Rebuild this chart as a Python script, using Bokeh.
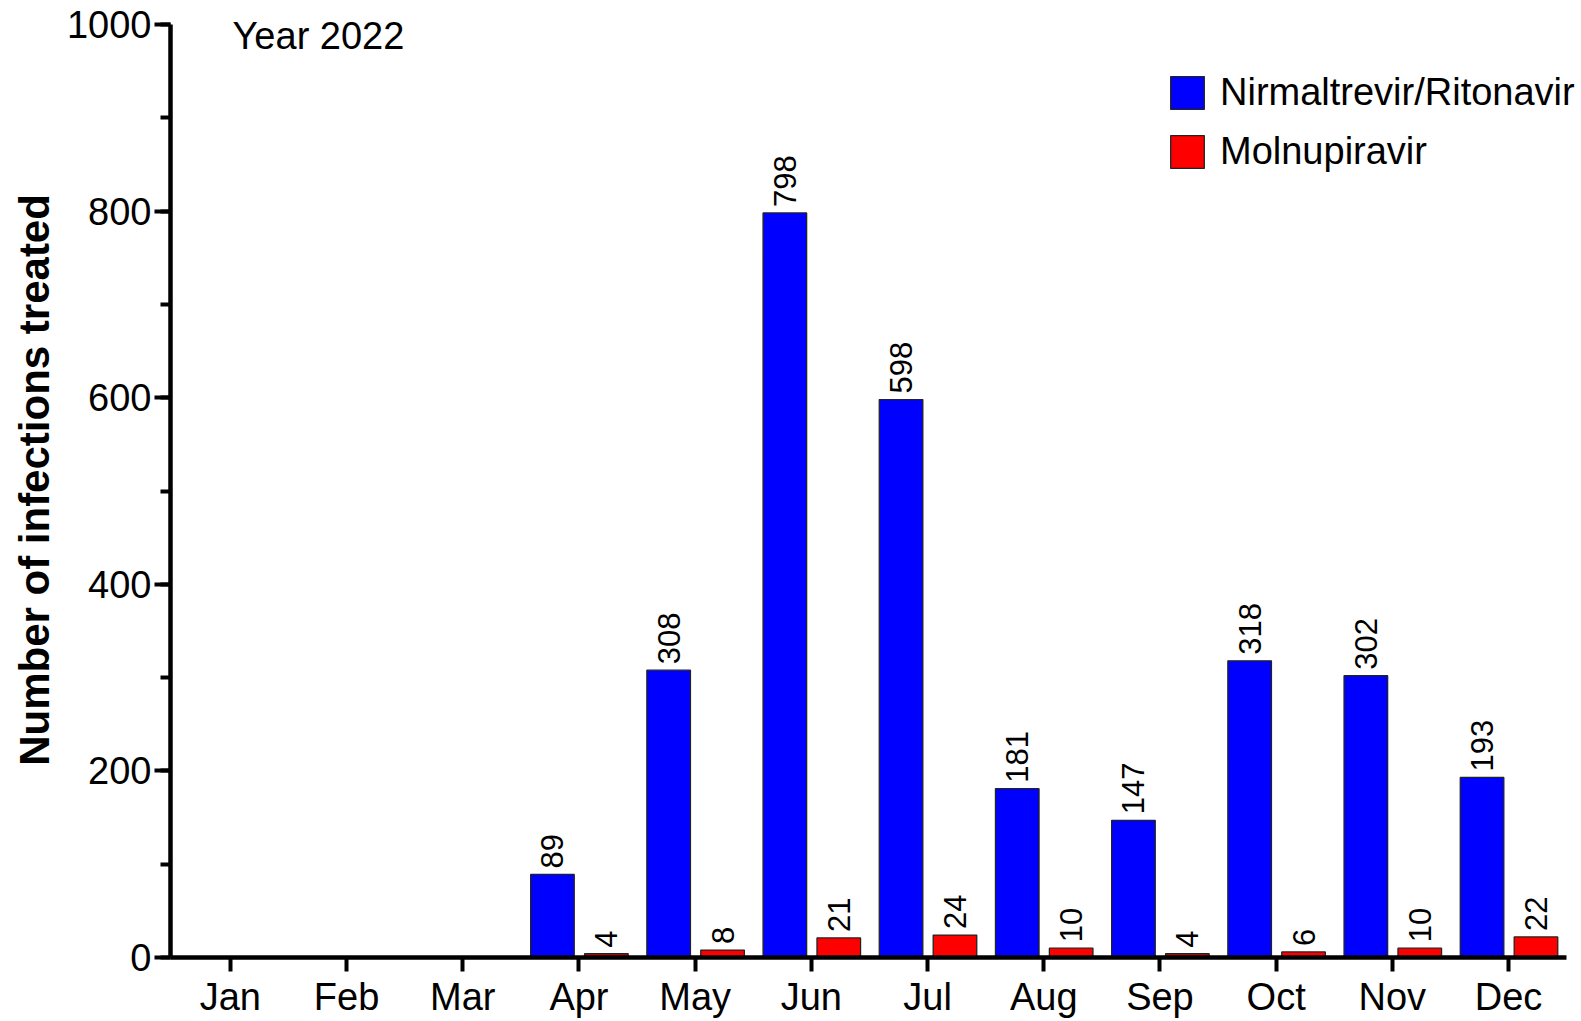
import math
from bokeh.plotting import figure
from bokeh.models import (ColumnDataSource, Range1d, Legend, LegendItem,
                          Label, FixedTicker)
from bokeh.transform import dodge
from bokeh.core.properties import value
from bokeh.embed import file_html
from bokeh.resources import INLINE

# ---- data ----
months = ["Jan", "Feb", "Mar", "Apr", "May", "Jun", "Jul", "Aug", "Sep", "Oct", "Nov", "Dec"]
nirmatrelvir = [0, 0, 0, 89, 308, 798, 598, 181, 147, 318, 302, 193]
molnupiravir = [0, 0, 0, 4, 8, 21, 24, 10, 4, 6, 10, 22]
series_names = ["Nirmaltrevir/Ritonavir", "Molnupiravir"]
year_text = "Year 2022"
y_label = "Number of infections treated"
y_ticks = [0, 200, 400, 600, 800, 1000]
y_minor = list(range(0, 1001, 100))

FONT = "Liberation Sans"

idx = list(range(len(months)))
src = ColumnDataSource(data=dict(i=idx, nir=nirmatrelvir, mol=molnupiravir))
nir_lab = ColumnDataSource(data=dict(
    i=[i for i, v in zip(idx, nirmatrelvir) if v > 0],
    v=[v for v in nirmatrelvir if v > 0],
    t=[str(v) for v in nirmatrelvir if v > 0]))
mol_lab = ColumnDataSource(data=dict(
    i=[i for i, v in zip(idx, molnupiravir) if v > 0],
    v=[v for v in molnupiravir if v > 0],
    t=[str(v) for v in molnupiravir if v > 0]))

# layout (pixels): frame left 170, y=0 at 957, y=1000 at 24, axis end at 1566
W_FIG, H_FIG = 1580, 1020
FL, FT, FB = 170, 2, 957
unit = 116.2
x_start = -0.515
x_end = x_start + (W_FIG - FL) / unit
y_end = 1000 * (FB - FT) / (FB - 24)

p = figure(x_range=Range1d(x_start, x_end), y_range=Range1d(0, y_end),
           width=W_FIG, height=H_FIG,
           output_backend="svg", toolbar_location=None,
           min_border_left=FL, min_border_right=0, min_border_top=FT,
           min_border_bottom=H_FIG - FB)
p.outline_line_color = None
p.xgrid.grid_line_color = None
p.ygrid.grid_line_color = None
p.background_fill_color = "white"
p.border_fill_color = "white"

OFF_B, OFF_R, BW = -0.228, 0.236, 0.375
r1 = p.vbar(x=dodge("i", OFF_B), top="nir", width=BW, bottom=0,
            source=src, fill_color="#0000FF", line_color="#222222", line_width=1.3)
r2 = p.vbar(x=dodge("i", OFF_R), top="mol", width=BW, bottom=0,
            source=src, fill_color="#FF0000", line_color="#222222", line_width=1.3)

for s, off in ((nir_lab, OFF_B), (mol_lab, OFF_R)):
    p.text(x=dodge("i", off), y="v", text="t", source=s,
           angle=math.pi / 2, text_align="left", text_baseline="middle",
           text_font=value(FONT), text_font_size="31px", text_color="black",
           y_offset=-6)

# axes
for ax in (p.xaxis[0], p.yaxis[0]):
    ax.axis_line_width = 4.5
    ax.axis_line_color = "black"
    ax.major_tick_line_width = 4
    ax.major_tick_line_color = "black"
    ax.minor_tick_line_width = 4
    ax.minor_tick_line_color = "black"
    ax.major_tick_in = 0
    ax.minor_tick_in = 0
    ax.major_label_text_font = FONT
    ax.major_label_text_font_size = "38px"
    ax.major_label_text_color = "black"

p.xaxis.ticker = FixedTicker(ticks=idx, minor_ticks=[])
p.xaxis.major_label_overrides = {i: m for i, m in zip(idx, months)}
p.xaxis.bounds = (x_start, len(months) - 0.5)
p.xaxis.major_tick_out = 14
p.xaxis.minor_tick_out = 0
p.xaxis.major_label_standoff = 4

p.yaxis.ticker = FixedTicker(ticks=y_ticks, minor_ticks=y_minor)
p.yaxis.bounds = (0, 1000)
p.yaxis.major_tick_out = 16
p.yaxis.minor_tick_out = 10
p.yaxis.major_label_standoff = 3
p.yaxis.axis_label = y_label
p.yaxis.axis_label_text_font = FONT
p.yaxis.axis_label_text_font_size = "42px"
p.yaxis.axis_label_text_font_style = "bold"
p.yaxis.axis_label_text_color = "black"
p.yaxis.axis_label_standoff = 6

# year label
p.add_layout(Label(x=62, y=FB - 35, x_units="screen", y_units="screen", text=year_text,
                   text_font=FONT, text_font_size="38px", text_baseline="alphabetic",
                   text_align="left", text_color="black"))

legend = Legend(items=[LegendItem(label=series_names[0], renderers=[r1]),
                       LegendItem(label=series_names[1], renderers=[r2])],
                location=(1166 - FL, FB - 173), orientation="vertical",
                glyph_width=42, glyph_height=41, label_standoff=12, spacing=16,
                padding=0, margin=0, border_line_color=None, background_fill_alpha=0,
                label_text_font=FONT, label_text_font_size="38px", label_text_color="black")
p.add_layout(legend)

open("out.html", "w").write(file_html(p, INLINE))
